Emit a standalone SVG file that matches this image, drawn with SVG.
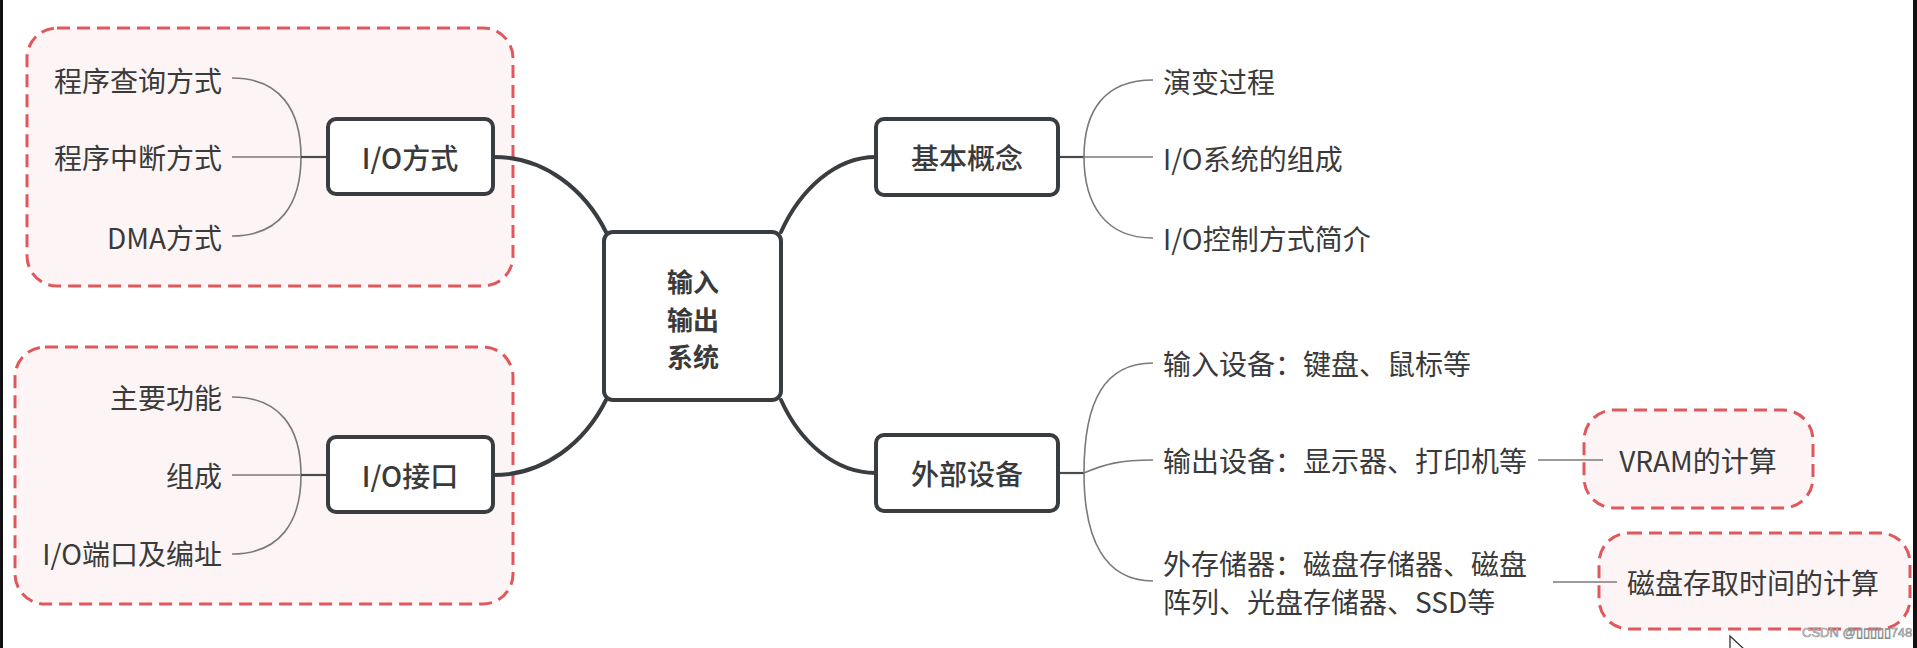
<svg xmlns="http://www.w3.org/2000/svg" width="1917" height="648" viewBox="0 0 1917 648">
<style>
.grp{fill:#fdf5f5;stroke:#e0585c;stroke-width:3;stroke-dasharray:13 7}
.node{fill:#ffffff;stroke:#3a3d40;stroke-width:4}
.thick{fill:none;stroke:#3a3d40;stroke-width:4;stroke-linecap:round}
.thin{fill:none;stroke:#7a7a7a;stroke-width:1.6}
.stem{fill:none;stroke:#4a4a4a;stroke-width:2.2}
text{font-family:"Noto Sans CJK SC","Noto Sans",sans-serif;font-size:28px;fill:#3a3a3a;dominant-baseline:central}
.lbl{font-weight:500;text-anchor:middle}
.ctr{font-weight:600;text-anchor:middle;font-size:26px}
.end{text-anchor:end}
.wm{font-family:"Liberation Sans",sans-serif;font-size:13px;fill:#e4e4e4;stroke:#8a8a8a;stroke-width:0.6}
</style>
<rect x="0" y="0" width="1917" height="648" fill="#ffffff"/>
<rect x="0" y="0" width="3" height="648" fill="#111"/>
<rect x="1913" y="0" width="4" height="648" fill="#111"/>

<g id="group-io-mode">
<rect class="grp" x="27" y="28" width="486" height="258" rx="30"/>
</g>
<g id="group-io-interface">
<rect class="grp" x="15" y="347" width="498" height="257" rx="30"/>
</g>
<g id="group-vram">
<rect class="grp" x="1584" y="410" width="229" height="98" rx="30"/>
</g>
<g id="group-disk">
<rect class="grp" x="1599" y="533" width="311" height="96" rx="30"/>
</g>

<g id="connectors">
<path class="thick" d="M494,157 C545,157 585,190 606,232"/>
<path class="thick" d="M494,475 C545,475 585,442 606,400"/>
<path class="thick" d="M781,232 C800,190 835,157 876,157"/>
<path class="thick" d="M781,400 C800,442 835,473 876,473"/>

<path class="thin" d="M232,78 C280,78 301,110 301,157 C301,204 280,236 232,236"/>
<path class="thin" d="M232,157 H301"/>
<path class="stem" d="M301,157 H328"/>

<path class="thin" d="M232,397 C280,397 301,428 301,475 C301,522 280,554 232,554"/>
<path class="thin" d="M232,475 H301"/>
<path class="stem" d="M301,475 H328"/>

<path class="stem" d="M1058,157 H1084"/>
<path class="thin" d="M1153,80 C1105,80 1084,110 1084,157 C1084,204 1105,238 1153,238"/>
<path class="thin" d="M1084,157 H1153"/>

<path class="stem" d="M1058,473 H1084"/>
<path class="thin" d="M1153,363 C1105,363 1084,400 1084,473 C1084,540 1105,581 1153,581"/>
<path class="thin" d="M1084,473 C1105,464 1120,460 1153,460"/>

<path class="thin" d="M1538,460 H1603"/>
<path class="thin" d="M1553,582 H1617"/>
</g>

<g id="center">
<rect class="node" x="604" y="232" width="177" height="168" rx="9"/>
<text class="ctr" x="693" y="280">输入</text>
<text class="ctr" x="693" y="318">输出</text>
<text class="ctr" x="693" y="355">系统</text>
</g>

<g id="node-io-mode">
<rect class="node" x="328" y="119" width="165" height="75" rx="8"/>
<text class="lbl" x="410" y="157">I/O方式</text>
</g>
<g id="node-io-interface">
<rect class="node" x="328" y="437" width="165" height="75" rx="8"/>
<text class="lbl" x="410" y="475">I/O接口</text>
</g>
<g id="node-basic">
<rect class="node" x="876" y="119" width="182" height="76" rx="8"/>
<text class="lbl" x="967" y="157">基本概念</text>
</g>
<g id="node-external">
<rect class="node" x="876" y="435" width="182" height="76" rx="8"/>
<text class="lbl" x="967" y="473">外部设备</text>
</g>

<g id="leaves-io-mode">
<text class="end" x="222" y="80">程序查询方式</text>
<text class="end" x="222" y="157">程序中断方式</text>
<text class="end" x="222" y="237">DMA方式</text>
</g>
<g id="leaves-io-interface">
<text class="end" x="222" y="397">主要功能</text>
<text class="end" x="222" y="475">组成</text>
<text class="end" x="222" y="553">I/O端口及编址</text>
</g>
<g id="leaves-basic">
<text x="1163" y="81">演变过程</text>
<text x="1163" y="158">I/O系统的组成</text>
<text x="1163" y="238">I/O控制方式简介</text>
</g>
<g id="leaves-external">
<text x="1163" y="363">输入设备：键盘、鼠标等</text>
<text x="1163" y="460">输出设备：显示器、打印机等</text>
<text x="1163" y="563">外存储器：磁盘存储器、磁盘</text>
<text x="1163" y="601">阵列、光盘存储器、SSD等</text>
</g>
<g id="node-vram-calc">
<text x="1698" y="460" text-anchor="middle">VRAM的计算</text>
</g>
<g id="node-disk-calc">
<text x="1753" y="582" text-anchor="middle">磁盘存取时间的计算</text>
</g>

<text class="wm" x="1802" y="632">CSDN @▯▯▯▯▯748</text>
<path d="M1730,636 L1730,656 L1734.5,651 L1745,650 Z" fill="#ffffff" stroke="#333" stroke-width="1.3"/>
</svg>
